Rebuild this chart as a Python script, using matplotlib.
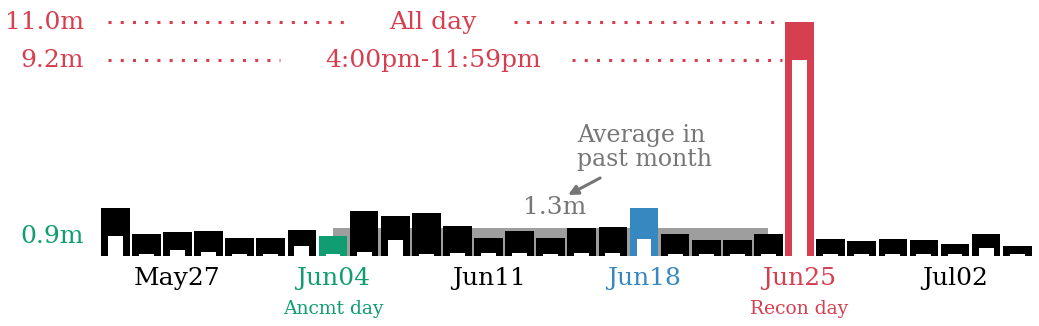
import matplotlib
matplotlib.use('Agg')
import matplotlib.pyplot as plt
from matplotlib.patches import Rectangle

plt.rcParams['font.family'] = 'DejaVu Serif'

# daily volume (m), one bar per trading day
all_day = [2.26, 1.03, 1.13, 1.18, 0.85, 0.85, 1.22, 0.95, 2.12, 1.88,
           2.02, 1.41, 0.85, 1.18, 0.85, 1.31, 1.36, 2.26, 1.03, 0.75,
           0.75, 1.03, 11.0, 0.80, 0.71, 0.80, 0.75, 0.56, 1.03, 0.47]
evening = [0.94, 0.10, 0.28, 0.19, 0.10, 0.10, 0.47, 0.10, 0.19, 0.75,
           0.10, 0.12, 0.12, 0.12, 0.08, 0.12, 0.12, 0.80, 0.10, 0.08,
           0.08, 0.10, 9.2, 0.08, 0.08, 0.10, 0.08, 0.08, 0.38, 0.08]

tick_pos = [2, 7, 12, 17, 22, 27]
tick_labels = ['May27', 'Jun04', 'Jun11', 'Jun18', 'Jun25', 'Jul02']
sub_labels = {7: 'Ancmt day', 22: 'Recon day'}

avg_month = 1.3
avg_start, avg_end = 7, 21

RED = '#d63f50'
GREEN = '#0f9d71'
BLUE = '#3787c0'
GREY_TXT = '#767676'
special = {7: GREEN, 17: BLUE, 22: RED}

fig = plt.figure(figsize=(10.39, 3.26), dpi=100)
ax = fig.add_axes([0.0960, 0.2147, 0.898, 0.7503])
ax.set_xlim(-0.5, 29.5)
ax.set_ylim(0, 11.5)
ax.axis('off')

# average band behind the bars
ax.add_patch(Rectangle((avg_start, 0), avg_end - avg_start, avg_month,
                       color='#9e9e9e', lw=0, zorder=1))

x = list(range(len(all_day)))
colors = [special.get(i, 'black') for i in x]
ax.bar(x, all_day, width=0.92, color=colors, lw=0, zorder=2)
ax.bar(x, evening, width=0.48, color='white', lw=0, zorder=3)

# tick labels
for p, lab in zip(tick_pos, tick_labels):
    c = special.get(p, 'black')
    ax.text(p, -1.08, lab, ha='center', va='center', fontsize=18, color=c,
            clip_on=False)
    if p in sub_labels:
        ax.text(p, -2.49, sub_labels[p], ha='center', va='center',
                fontsize=13.5, color=c, clip_on=False)

# value labels on the left
ax.text(-1.0, 11.0, '11.0m', ha='right', va='center', fontsize=18, color=RED, clip_on=False)
ax.text(-1.0, 9.2, '9.2m', ha='right', va='center', fontsize=18, color=RED, clip_on=False)
ax.text(-1.0, 0.9, '0.9m', ha='right', va='center', fontsize=18, color=GREEN, clip_on=False)

# dotted guide lines
dots = dict(color=RED, lw=2.2, linestyle=(0, (1, 3)), dash_capstyle='butt', clip_on=False)
ax.plot([-0.23, 7.61], [11.0, 11.0], **dots)
ax.plot([12.82, 21.45], [11.0, 11.0], **dots)
ax.plot([-0.23, 5.3], [9.2, 9.2], **dots)
ax.plot([14.69, 21.45], [9.2, 9.2], **dots)
ax.text(10.22, 11.0, 'All day', ha='center', va='center', fontsize=18, color=RED)
ax.text(10.22, 9.2, '4:00pm-11:59pm', ha='center', va='center', fontsize=18, color=RED)

# average annotation
ax.text(14.85, 5.12, 'Average in\npast month', ha='left', va='center',
        fontsize=17, color=GREY_TXT, linespacing=1.05)
ax.annotate('', xy=(14.56, 2.87), xytext=(15.59, 3.67),
            arrowprops=dict(arrowstyle='-|>', color=GREY_TXT, lw=2.2,
                            mutation_scale=14, shrinkA=0, shrinkB=0))
ax.text(14.13, 2.26, '1.3m', ha='center', va='center', fontsize=18, color=GREY_TXT)

fig.savefig('out.png', dpi=100)
